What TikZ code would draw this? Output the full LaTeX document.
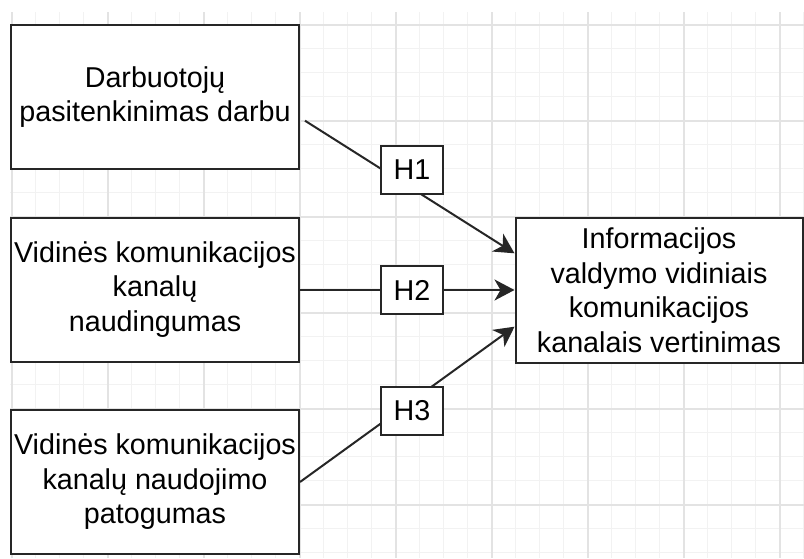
\documentclass[tikz,border=0pt]{standalone}
\usepackage{fontspec}
\setmainfont{Liberation Sans}
\usetikzlibrary{arrows.meta}
\definecolor{minorgrid}{HTML}{F2F2F2}
\definecolor{majorgrid}{HTML}{E3E3E3}
\definecolor{edgecol}{HTML}{262626}
\begin{document}
\begin{tikzpicture}[x=1pt,y=-1pt,
  bigbox/.style={draw=edgecol,line width=2pt,fill=white,minimum width=288pt,minimum height=144pt,align=center,inner sep=0pt,font=\fontsize{28.7}{34.5}\selectfont},
  hbox/.style={draw=edgecol,line width=2pt,fill=white,minimum width=62pt,minimum height=48pt,inner sep=0pt,font=\fontsize{28.7}{34.5}\selectfont},
  conn/.style={draw=edgecol,line width=2pt},
  arr/.style={conn,-{Stealth[length=20pt,width=21pt,inset=6pt]}}]
\useasboundingbox (0,0) rectangle (804,558);
\fill[white] (0,0) rectangle (804,558);
% grid
\begin{scope}
\clip (10,12) rectangle (804,558);
\foreach \x in {11.7,35.7,...,804} \draw[minorgrid,line width=1.2pt] (\x,12) -- (\x,558);
\foreach \y in {0.7,24.7,...,558} \draw[minorgrid,line width=1.2pt] (10,\y) -- (804,\y);
\foreach \x in {11.7,107.7,...,804} \draw[majorgrid,line width=1.6pt] (\x,12) -- (\x,558);
\foreach \y in {24.7,120.7,...,558} \draw[majorgrid,line width=1.6pt] (10,\y) -- (804,\y);
\end{scope}
% boxes
\node[bigbox] (b1) at (155,97) {Darbuotojų\\pasitenkinimas darbu};
\node[bigbox] (b2) at (155,289.5) {Vidinės komunikacijos\\kanalų\\naudingumas};
\node[bigbox] (b3) at (155,482) {Vidinės komunikacijos\\kanalų naudojimo\\patogumas};
\node[bigbox,minimum width=287pt,minimum height=145pt] (r) at (659,290) {Informacijos\\valdymo vidiniais\\komunikacijos\\kanalais vertinimas};
% connectors
\coordinate (s1) at ([xshift=5pt,yshift=-23.7pt]b1.east);
\coordinate (t1) at ([yshift=36.7pt]r.west);
\coordinate (t3) at ([yshift=-36.7pt]r.west);
\draw[arr] (s1) -- (t1);
\draw[arr] (b2.east |- r.west) -- (r.west);
\draw[arr] (b3.east) -- (t3);
% labels
\node[hbox] (h1) at (412,170) {H1};
\node[hbox] (h2) at (412,290) {H2};
\node[hbox] (h3) at (412,411) {H3};
\end{tikzpicture}
\end{document}
